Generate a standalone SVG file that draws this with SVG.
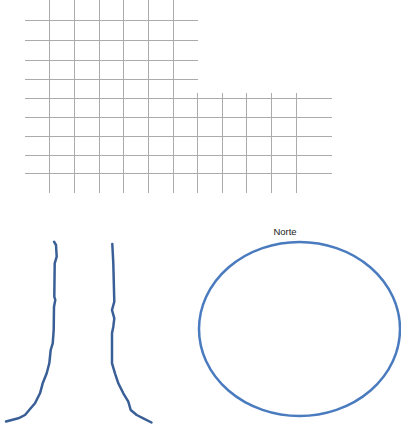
<svg xmlns="http://www.w3.org/2000/svg" width="401" height="425" viewBox="0 0 401 425">
<style>
.g{stroke:#ababab;stroke-width:1;fill:none}
.t{stroke:#3a5f96;stroke-width:2.5;fill:none;stroke-linecap:round;stroke-linejoin:round}
.lbl{font-family:"Liberation Sans",Arial,sans-serif;font-size:9.5px;fill:#222}
</style>
<rect width="401" height="425" fill="#fff"/>
<g id="grid">
<path class="g" d="M25 20.5H198M25 40.5H198M25 60.5H198M25 79.5H198M25 98.5H332M25 117.5H332M25 136.5H332M25 155.5H332M25 173.5H332"/>
<path class="g" d="M49.5 0V193M74.5 0V193M99.5 0V193M123.5 0V193M148.5 0V193M173.5 0V193M197.5 93V193M222.5 93V193M246.5 93V193M271.5 93V193M296.5 93V193"/>
</g>
<g id="trunk">
<path class="t" d="M54 241.7L56 245L56.7 256.7L54.7 263.3L54.3 296.7L55.3 300L54 306.7L53.7 330L52.7 343.3L50.7 350L49.3 363.3L46.7 373.3L42.7 383.3L40 393.3L35 403.3L30.7 408.3L25 415L18.3 418.3L6 421.5"/>
<path class="t" d="M112.3 244L113.3 263.3L114.3 301.7L112 310L114.3 318.3L113.3 326.7L112 333.3L112 363.3L115 373.3L118.3 383.3L123.3 393.3L128.3 401.7L130.7 410L136.7 415L143.3 418.3L151.5 422.5"/>
</g>
<g id="norte">
<ellipse cx="299.5" cy="329" rx="100.5" ry="87" fill="none" stroke="#4a7bbf" stroke-width="2.5"/>
<text class="lbl" x="285" y="235" text-anchor="middle">Norte</text>
</g>
</svg>
